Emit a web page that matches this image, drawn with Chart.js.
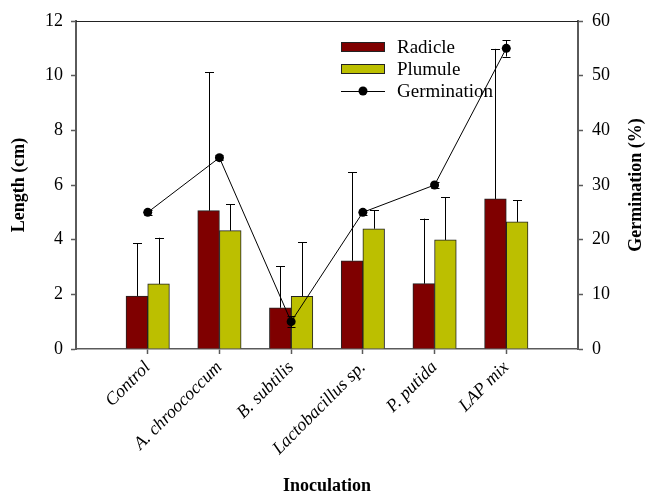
<!DOCTYPE html>
<html>
<head>
<meta charset="utf-8">
<script src="https://cdn.jsdelivr.net/npm/chart.js@4/dist/chart.umd.min.js"></script>
<style>
html,body{margin:0;padding:0;background:#fff;}
#wrap{position:relative;width:645px;height:495px;}
</style>
</head>
<body>
<div id="wrap"><canvas id="c" width="645" height="495"></canvas></div>
<script>
const categories = ['Control', 'A. chroococcum', 'B. subtilis', 'Lactobacillus sp.', 'P. putida', 'LAP mix'];
const radicle = [1.94, 5.06, 1.51, 3.23, 2.39, 5.49];
const radicleErr = [1.93, 5.06, 1.51, 3.23, 2.38, 5.49];
const plumule = [2.38, 4.33, 1.93, 4.40, 3.99, 4.65];
const plumuleErr = [1.69, 0.97, 1.97, 0.67, 1.56, 0.80];
const germination = [25, 35, 5, 25, 30, 55];
const germinationErr = [0.5, 0.5, 1, 0.5, 0.5, 1.5];
const lengthTicks = [0, 2, 4, 6, 8, 10, 12];
const germinationTicks = [0, 10, 20, 30, 40, 50, 60];
const seriesNames = ['Radicle', 'Plumule', 'Germination'];
const rightTitle = 'Germination (%)';

const pad = a => [null].concat(a, [null]);
const labels = [''].concat(categories, ['']);
const SERIF = "'Liberation Serif', 'Times New Roman', serif";
const AXIS = '#5a5a5a';

const errorBars = {
  id: 'errorBars',
  afterDatasetsDraw(chart) {
    const ctx = chart.ctx;
    ctx.save();
    ctx.strokeStyle = '#000';
    ctx.lineWidth = 1;
    chart.data.datasets.forEach((ds, di) => {
      const meta = chart.getDatasetMeta(di);
      const scale = chart.scales[ds.yAxisID || 'y'];
      meta.data.forEach((el, i) => {
        const v = ds.data[i], e = ds.errors[i];
        if (v == null || e == null) return;
        const x = Math.round(el.x) + 0.5;
        const yTop = scale.getPixelForValue(v + e);
        const yBot = ds.twoSided ? scale.getPixelForValue(v - e) : scale.getPixelForValue(v);
        const half = ds.twoSided ? 4 : 4.5;
        ctx.beginPath();
        ctx.moveTo(x, yBot); ctx.lineTo(x, yTop);
        ctx.moveTo(x - half, Math.round(yTop) + 0.5); ctx.lineTo(x + half, Math.round(yTop) + 0.5);
        if (ds.twoSided) { ctx.moveTo(x - half, Math.round(yBot) + 0.5); ctx.lineTo(x + half, Math.round(yBot) + 0.5); }
        ctx.stroke();
      });
    });
    ctx.restore();
  }
};

const frameAndLegend = {
  id: 'frameAndLegend',
  afterDraw(chart) {
    const ctx = chart.ctx, a = chart.chartArea;
    ctx.save();
    ctx.strokeStyle = '#222';
    ctx.lineWidth = 1;
    ctx.beginPath();
    ctx.moveTo(a.left, Math.round(a.top) + 0.5);
    ctx.lineTo(a.right, Math.round(a.top) + 0.5);
    ctx.stroke();
    // legend
    const lx = 341, bw = 44, bh = 10;
    const rows = [47, 69, 91];
    ctx.font = '19px ' + SERIF;
    ctx.textBaseline = 'middle';
    ctx.fillStyle = '#000';
    const ds = chart.data.datasets;
    [ds[1], ds[2]].forEach((d, k) => {
      const y = rows[k];
      ctx.fillStyle = d.backgroundColor;
      ctx.fillRect(lx, y - bh / 2, bw, bh);
      ctx.strokeStyle = '#222';
      ctx.strokeRect(lx + 0.5, y - bh / 2 + 0.5, bw - 1, bh - 1);
    });
    const gy = rows[2];
    ctx.strokeStyle = '#000';
    ctx.beginPath(); ctx.moveTo(lx, gy + 0.5); ctx.lineTo(lx + bw, gy + 0.5); ctx.stroke();
    ctx.fillStyle = '#000';
    ctx.beginPath(); ctx.arc(lx + bw / 2, gy, 4.5, 0, Math.PI * 2); ctx.fill();
    seriesNames.forEach((n, k) => {
      ctx.fillStyle = '#000';
      ctx.fillText(n, 397, rows[k] + 1);
    });
    // right axis title, reading bottom to top
    ctx.translate(636, (a.top + a.bottom) / 2);
    ctx.rotate(-Math.PI / 2);
    ctx.font = 'bold 18px ' + SERIF;
    ctx.textAlign = 'center';
    ctx.textBaseline = 'middle';
    ctx.fillStyle = '#000';
    ctx.fillText(rightTitle, 0, 0);
    ctx.restore();
  }
};

new Chart(document.getElementById('c'), {
  type: 'bar',
  data: {
    labels: labels,
    datasets: [
      {
        type: 'line', label: seriesNames[2], data: pad(germination), errors: pad(germinationErr), twoSided: true,
        yAxisID: 'y2', borderColor: '#000', borderWidth: 1, backgroundColor: '#000',
        pointRadius: 4.5, pointBackgroundColor: '#000', pointBorderWidth: 0, order: 0, tension: 0
      },
      {
        label: seriesNames[0], data: pad(radicle), errors: pad(radicleErr), yAxisID: 'y',
        backgroundColor: '#7f0000', borderColor: '#222', borderWidth: 1, order: 1
      },
      {
        label: seriesNames[1], data: pad(plumule), errors: pad(plumuleErr), yAxisID: 'y',
        backgroundColor: '#bcbf00', borderColor: '#222', borderWidth: 1, order: 1
      }
    ]
  },
  options: {
    responsive: false,
    animation: false,
    events: [],
    layout: { padding: { top: 21, left: 0, right: 0, bottom: 0 } },
    barThickness: 21.7,
    plugins: { legend: { display: false }, tooltip: { enabled: false } },
    scales: {
      x: {
        offset: false,
        afterFit: s => { s.height = 146; },
        grid: {
          offset: false,
          drawOnChartArea: false, drawTicks: true, tickLength: 5, tickWidth: 1.5,
          color: c => (c.index === 0 || c.index === labels.length - 1) ? 'rgba(0,0,0,0)' : AXIS
        },
        border: { display: true, color: AXIS, width: 1.5 },
        ticks: {
          autoSkip: false, maxRotation: 45, minRotation: 45, padding: 3, color: '#000',
          font: { family: SERIF, size: 18, style: 'italic' }
        },
        title: { display: true, text: 'Inoculation', color: '#000', padding: 0,
          font: { family: SERIF, size: 18, weight: 'bold', lineHeight: 1 } }
      },
      y: {
        position: 'left', min: 0, max: 12,
        afterFit: s => { s.width = 76; },
        afterBuildTicks: s => { s.ticks = lengthTicks.map(v => ({ value: v })); },
        grid: { drawOnChartArea: false, drawTicks: true, tickLength: 5, color: AXIS, tickWidth: 1.5 },
        border: { display: true, color: AXIS, width: 2 },
        ticks: { padding: 8, color: '#000', font: { family: SERIF, size: 18 } },
        title: { display: true, text: 'Length (cm)', color: '#000', padding: { top: 10.5, bottom: 0 },
          font: { family: SERIF, size: 18, weight: 'bold', lineHeight: 1 } }
      },
      y2: {
        position: 'right', min: 0, max: 60,
        afterFit: s => { s.width = 67; },
        afterBuildTicks: s => { s.ticks = germinationTicks.map(v => ({ value: v })); },
        grid: { drawOnChartArea: false, drawTicks: true, tickLength: 5, color: AXIS, tickWidth: 1.5 },
        border: { display: true, color: AXIS, width: 2 },
        ticks: { padding: 9, color: '#000', font: { family: SERIF, size: 18 } },
        title: { display: false }
      }
    }
  },
  plugins: [errorBars, frameAndLegend]
});
</script>
</body>
</html>
